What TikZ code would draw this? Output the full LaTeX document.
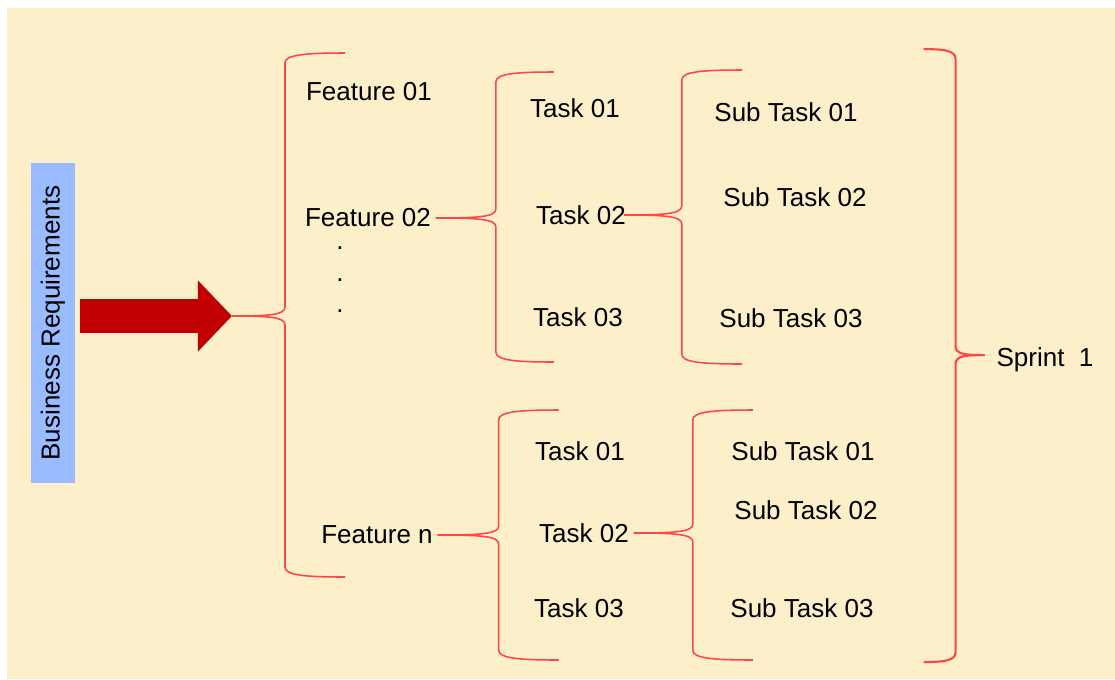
\documentclass[tikz,border=0pt]{standalone}
\usepackage{fontspec}
\setmainfont{Liberation Sans}
\usetikzlibrary{arrows.meta,calc}

\definecolor{cream}{RGB}{253,239,201}
\definecolor{reqblue}{RGB}{153,187,255}
\definecolor{arrowred}{RGB}{192,0,0}
\definecolor{bracered}{RGB}{255,70,70}

\tikzset{curly/.style={draw=bracered,line width=1.1pt}}

% curly bracket: [opts] tip, width, up, down, end
\newcommand{\fork}[6][]{%
	\draw[curly,#1] (#2) .. controls +({0.7*#3},0) and +(0,8) .. ++(#3,-9)
		-- ++(0,{19-#4}) .. controls +(0,-8) and +({-0.7*#6},0) .. ++(#6,-10);
	\draw[curly,#1] (#2) .. controls +({0.7*#3},0) and +(0,-8) .. ++(#3,9)
		-- ++(0,{#5-19}) .. controls +(0,8) and +({-0.7*#6},0) .. ++(#6,10);
}

\begin{document}
\begin{tikzpicture}[x=0.025cm,y=-0.025cm,every node/.style={font=\fontsize{18.5}{22}\selectfont}]
	\fill[white] (0,0) rectangle (1115,679);
	\fill[cream] (7,8) rectangle (1115,679);
	\useasboundingbox (0,0) rectangle (1115,679);

	\node[fill=reqblue,rotate=90,minimum width=8cm,minimum height=1.1cm] (req) at (53,323) {Business Requirements};
	\coordinate (start) at (232,316);
	\draw[arrowred,line width=0.85cm,-{Triangle[length=0.85cm,width=1.725cm]}]
		($(req.south |- start)+(5,0)$) -- (start);

	\node (f1) at (369,92) {Feature 01};
	\node (f2) at (368,218) {Feature 02};
	\node (fn) at (377,535) {Feature n};
	\foreach \y in {248,280,311}
		\node[inner sep=0pt] (dot\y) at (340,\y) {.};

	\foreach \i/\x/\y in {1/575/108,2/581/215,3/578/317}
		\node (ta\i) at (\x,\y) {Task 0\i};
	\foreach \i/\x/\y in {1/580/451,2/584/533,3/579/608}
		\node (tb\i) at (\x,\y) {Task 0\i};
	\foreach \i/\x/\y in {1/786/112,2/795/197,3/791/318}
		\node (sa\i) at (\x,\y) {Sub Task 0\i};
	\foreach \i/\x/\y in {1/803/451,2/806/510,3/802/608}
		\node (sb\i) at (\x,\y) {Sub Task 0\i};
	\node (sprint) at (1045,360) {Sprint\ \ 1};

	\fork{start}{53}{263}{261}{60}
	\fork{f2.east}{60}{146}{144}{58}
	\fork{fn.east}{61}{125}{125}{60}
	\fork{[xshift=-5pt]ta2.east}{58}{145}{149}{60}
	\fork{tb2.east}{59}{123}{127}{60}
	\fork[line width=1.5pt]{[xshift=-5pt,yshift=3.5pt]sprint.west}{-29}{306}{307}{-32}
\end{tikzpicture}
\end{document}
